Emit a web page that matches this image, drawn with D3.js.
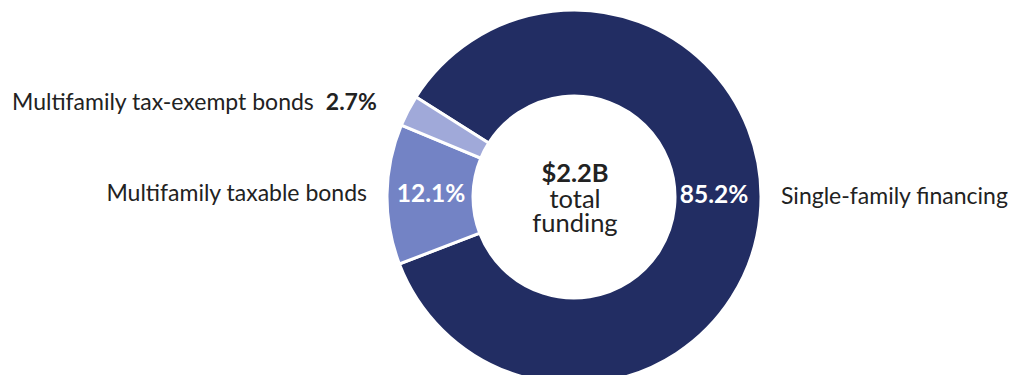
<!DOCTYPE html>
<html>
<head>
<meta charset="utf-8">
<script src="https://cdn.jsdelivr.net/npm/d3@7"></script>
<style>
  html, body { margin: 0; padding: 0; background: #fff; }
  svg { display: block; font-family: Lato, "Open Sans", sans-serif; }
</style>
</head>
<body>
<svg id="chart" width="1016" height="375"></svg>
<script>
// Funding sources, share of total (%)
const categories = ["Single-family financing", "Multifamily taxable bonds", "Multifamily tax-exempt bonds"];
const shares = [85.2, 12.1, 2.7];
const shareLabels = ["85.2%", "12.1%", "2.7%"];
const totalLabel = ["$2.2B", "total", "funding"];
const colors = ["#222d63", "#7383c5", "#a0a9d9"];

const svg = d3.select("#chart");
const cx = 574, cy = 197, outerR = 187, innerR = 101;

const data = categories.map((c, i) => ({ category: c, value: shares[i], label: shareLabels[i], color: colors[i] }));

const pie = d3.pie()
  .sort(null)
  .value(d => d.value)
  .startAngle(-57.7 * Math.PI / 180)
  .endAngle((360 - 57.7) * Math.PI / 180);

const arc = d3.arc().innerRadius(innerR).outerRadius(outerR);
const arcs = pie(data);

const g = svg.append("g").attr("transform", `translate(${cx},${cy})`);

g.selectAll("path.slice")
  .data(arcs)
  .join("path")
  .attr("class", "slice")
  .attr("d", arc)
  .attr("fill", d => d.data.color)
  .attr("stroke", "#fff")
  .attr("stroke-width", 3)
  .attr("stroke-linejoin", "miter");

// Percent labels inside the two larger slices
const inside = arcs.slice(0, 2);
g.selectAll("text.pct")
  .data(inside)
  .join("text")
  .attr("class", "pct")
  .attr("x", (d, i) => i === 0 ? 140 : -143)
  .attr("y", (d, i) => i === 0 ? 6 : 5)
  .attr("text-anchor", "middle")
  .attr("fill", "#fff")
  .attr("font-weight", 700)
  .attr("font-size", 24.5)
  .text(d => d.data.label);

// Centre total
const centre = g.append("text").attr("text-anchor", "middle").attr("fill", "#222").attr("font-size", 25.5);
centre.append("tspan").attr("x", 1).attr("y", -15).attr("font-weight", 700).text(totalLabel[0]);
centre.append("tspan").attr("x", 1).attr("y", 11).text(totalLabel[1]);
centre.append("tspan").attr("x", 1).attr("y", 35).text(totalLabel[2]);

// Category labels outside the ring
const lab = svg.append("g").attr("font-size", 23).attr("fill", "#222");
lab.append("text").attr("x", 781).attr("y", 204).text(categories[0]);
lab.append("text").attr("x", 367).attr("y", 201).attr("text-anchor", "end").text(categories[1]);
const te = lab.append("text").attr("x", 12).attr("y", 110);
te.append("tspan").text(categories[2]);
te.append("tspan").attr("dx", 12).attr("font-weight", 700).text(shareLabels[2]);
</script>
</body>
</html>
